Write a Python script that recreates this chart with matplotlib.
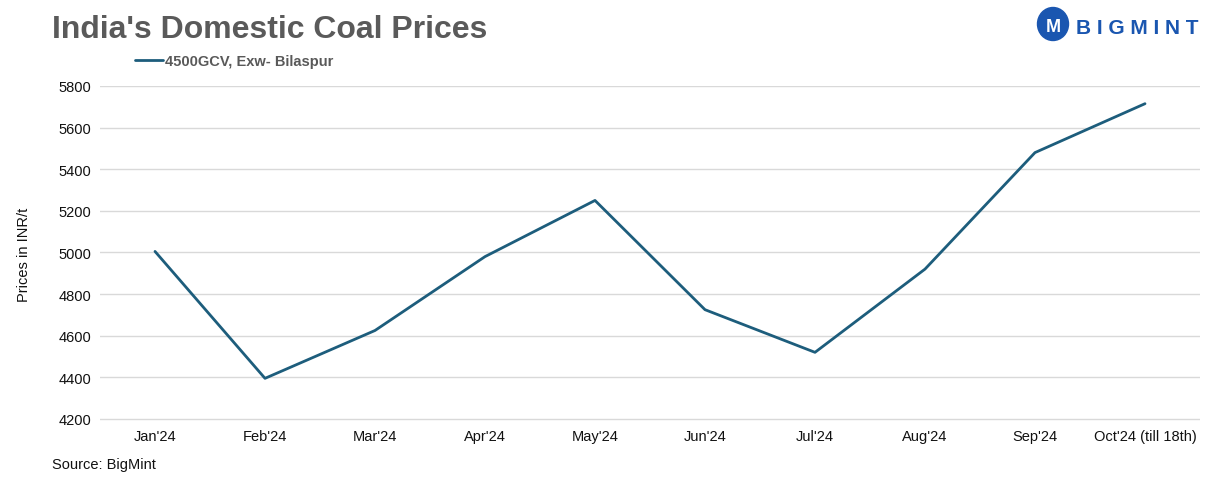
import matplotlib.pyplot as plt
from matplotlib.patches import Ellipse

months = ["Jan'24", "Feb'24", "Mar'24", "Apr'24", "May'24", "Jun'24",
          "Jul'24", "Aug'24", "Sep'24", "Oct'24 (till 18th)"]
prices = [5005, 4395, 4625, 4980, 5250, 4725, 4520, 4920, 5480, 5715]
yticks = [4200, 4400, 4600, 4800, 5000, 5200, 5400, 5600, 5800]

LINE = "#1d5d7c"
plt.rcParams["font.family"] = ["Liberation Sans", "DejaVu Sans"]

W, H = 1210, 485
fig = plt.figure(figsize=(W / 100, H / 100), dpi=100)
ax = fig.add_axes([100 / W, 63 / H, 1100 / W, 335 / H])

x = list(range(len(months)))
line, = ax.plot(x, prices, color=LINE, lw=2.0, solid_capstyle="round",
                label="4500GCV, Exw- Bilaspur")

ax.set_xlim(-0.5, len(months) - 0.5)
ax.set_ylim(4190, 5800)
ax.set_yticks(yticks)
ax.set_xticks(x)
ax.set_xticklabels(months)
ax.tick_params(axis="both", length=0, labelsize=10.5, colors="#111111")
ax.tick_params(axis="y", pad=6)
ax.tick_params(axis="x", pad=6)
ax.yaxis.grid(True, color="#d9d9d9", lw=1)
ax.set_axisbelow(True)
for s in ax.spines.values():
    s.set_visible(False)

ax.set_ylabel("Prices in INR/t", fontsize=10.5, color="#111111")
ax.yaxis.set_label_coords(-0.063, 0.5)

fig.text(52 / W, 1 - 30 / H, "India's Domestic Coal Prices", fontsize=23,
         fontweight="bold", color="#5a5a5a", va="center", ha="left")

leg = fig.legend(handles=[line], loc="center left",
                 bbox_to_anchor=(122 / W, 1 - 62 / H), frameon=False,
                 handlelength=1.9, handletextpad=0.15,
                 prop={"size": 10.5, "weight": "bold"})
for t in leg.get_texts():
    t.set_color("#595959")

fig.text(52 / W, 1 - 465 / H, "Source: BigMint", fontsize=10.5,
         color="#111111", va="center", ha="left")

# logo
BLUE = "#1a56b0"
fig.patches.append(Ellipse((1053 / W, 1 - 25 / H), 31 / W, 33 / H,
                           transform=fig.transFigure, color=BLUE))
fig.text(1053 / W, 1 - 27 / H, "M", fontsize=13, fontweight="bold",
         color="white", ha="center", va="center")
fig.text(1076 / W, 1 - 28 / H, "B I G M I N T", fontsize=15,
         fontweight="bold", color=BLUE, ha="left", va="center")

fig.savefig("out.png", dpi=100)
